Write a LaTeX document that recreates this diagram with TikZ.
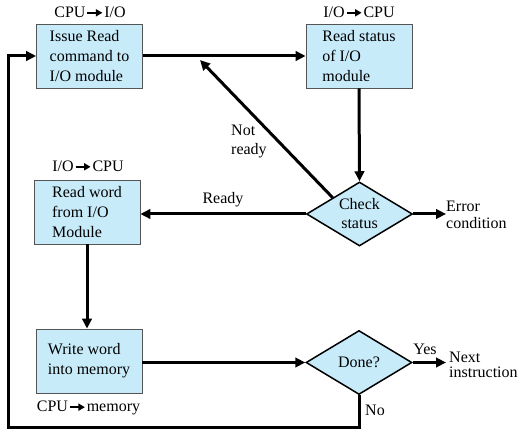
\documentclass[tikz,border=0pt]{standalone}
\usepackage{fontspec}
\setmainfont{Liberation Serif}
\usetikzlibrary{arrows.meta,shapes.geometric,calc}
\definecolor{boxblue}{RGB}{200,235,250}
\definecolor{edgegray}{RGB}{85,85,85}
\newcommand{\smallarr}{\hspace{1pt}\tikz[baseline=-0.6ex]\draw[line width=1.8pt,-{Triangle[length=6.5pt,width=7pt]}] (0pt,0pt)--(15pt,0pt);\hspace{1pt}}
\tikzset{
  procbox/.style={draw=edgegray, line width=0.8pt, fill=boxblue, minimum width=106pt, minimum height=64pt, align=left, inner sep=0pt, font=\fontsize{16}{20}\selectfont},
  decision/.style={diamond, draw=black, line width=1.5pt, fill=boxblue, aspect=1.65, minimum width=106pt, minimum height=64pt, inner sep=0pt, align=center, font=\fontsize{16}{19}\selectfont},
  flow/.style={line width=3pt, -{Triangle[length=10pt,width=9.5pt]}},
  lbl/.style={inner sep=0pt, font=\fontsize{16}{19}\selectfont}
}
\begin{document}
\begin{tikzpicture}[x=1pt,y=1pt]
\useasboundingbox (0,0) rectangle (523,-438);
% nodes
\node[procbox] (b1) at (89.5,-56) {Issue Read\\command to\\I/O module};
\node[procbox] (b2) at (359,-56) {Read status\\of I/O\\module};
\node[decision] (d1) at (359.5,-214) {Check\\status};
\node[procbox] (b3) at (87,-212) {Read word\\from I/O\\Module};
\node[procbox] (b4) at (89,-361) {Write word\\into memory};
\node[decision] (d2) at (359,-362.5) {Done?};
% labels
\node[lbl] (l1) at (90,-12) {CPU\smallarr I/O};
\node[lbl] (l2) at (359,-12) {I/O\smallarr CPU};
\node[lbl] (l3) at (88,-166) {I/O\smallarr CPU};
\node[lbl] (l4) at (88.5,-408) {CPU\smallarr memory};
\node[lbl, align=left, anchor=west] (nrl) at (231,-141) {Not\\ready};
\node[lbl] (rl) at (223,-200) {Ready};
\node[lbl, align=left, anchor=west, font=\fontsize{16}{17}\selectfont] (el) at (446,-215) {Error\\condition};
\node[lbl] (yl) at (425,-349) {Yes};
\node[lbl, align=left, anchor=west, font=\fontsize{16}{15.5}\selectfont] (ni) at (449,-365) {Next\\instruction};
\node[lbl] (nl) at (375,-410) {No};
% coordinates
\coordinate (nr) at (200,-60);
\coordinate (err) at (446,-214);
\coordinate (nxt) at (446,-362.5);
\coordinate (c1) at (8,-428);
% connectors
\draw[flow] (b1.east) -- (b2.west);
\draw[flow] (b2.south) -- (d1.north);
\draw[flow] ($(d1.west)!0.5!(d1.north)$) -- (nr);
\draw[flow] (d1.west) -- (d1.west -| b3.east);
\draw[flow] (d1.east) -- (err);
\draw[flow] (b3.south) -- (b3.south |- b4.north);
\draw[flow] (d2.west -| b4.east) -- (d2.west);
\draw[flow] (d2.east) -- (nxt);
\draw[flow] (d2.south) -- (d2.south |- c1) -- (c1) -- (c1 |- b1.west) -- (b1.west);
\end{tikzpicture}
\end{document}
